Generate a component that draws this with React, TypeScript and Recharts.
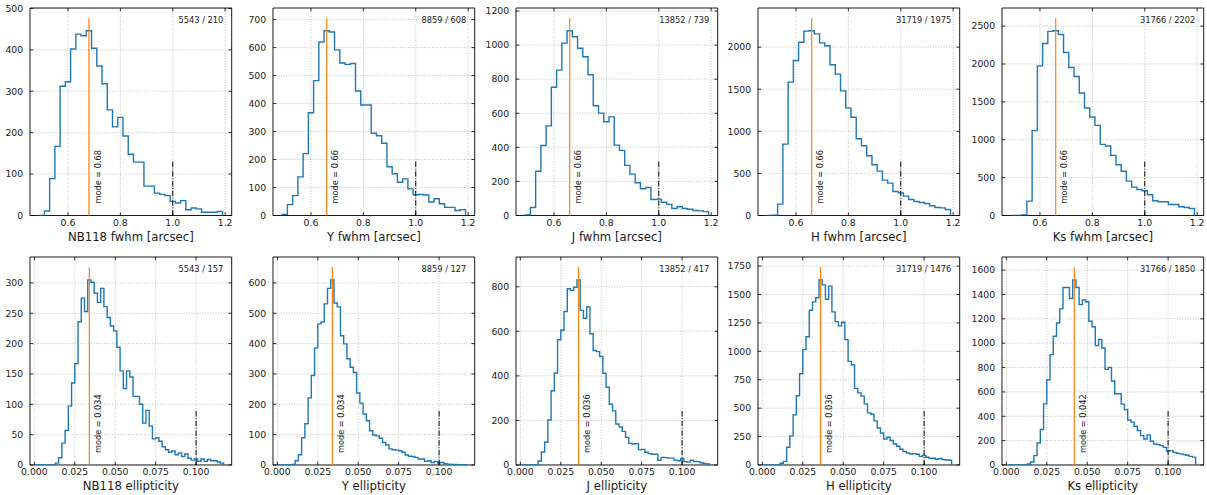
import React from 'react';
import {
  ComposedChart,
  Line,
  XAxis,
  YAxis,
  CartesianGrid,
  ReferenceLine,
  ReferenceArea,
  ReferenceDot,
} from 'recharts';

// ---------------- data ----------------
const FWHM_BIN_START = 0.49;
const FWHM_BIN_WIDTH = 0.02;
const ELL_BIN_START = 0.001;
const ELL_BIN_WIDTH = 0.002;

const nb118Fwhm = [0, 11, 89, 167, 312, 323, 402, 438, 434, 446, 404, 361, 318, 255, 214, 237, 192, 148, 129, 129, 71, 71, 54, 51, 48, 34, 30, 36, 14, 18, 16, 8, 8, 8, 10];
const yFwhm = [4, 39, 71, 138, 221, 367, 482, 620, 660, 656, 592, 545, 540, 543, 445, 395, 395, 294, 285, 258, 174, 149, 119, 131, 95, 74, 75, 73, 48, 60, 42, 29, 29, 18, 21];
const jFwhm = [3, 47, 260, 411, 526, 753, 853, 1012, 1084, 1049, 982, 932, 826, 644, 601, 550, 579, 413, 382, 294, 243, 192, 157, 164, 94, 96, 78, 65, 41, 51, 41, 37, 29, 27, 23];
const hFwhm = [0, 3, 135, 848, 1584, 1842, 2059, 2190, 2194, 2158, 2051, 2016, 1790, 1679, 1481, 1279, 1168, 911, 828, 709, 602, 527, 420, 384, 285, 269, 230, 190, 166, 154, 143, 115, 95, 91, 71];
const ksFwhm = [0, 0, 8, 190, 1120, 1975, 2271, 2430, 2438, 2390, 2152, 1953, 1834, 1618, 1420, 1301, 1190, 939, 917, 794, 670, 584, 454, 375, 344, 326, 273, 194, 181, 181, 146, 146, 115, 106, 93];

const nb118Ell = [0, 0, 0, 0, 0, 0, 3, 12, 36, 57, 97, 135, 167, 236, 275, 253, 305, 301, 283, 268, 291, 261, 243, 229, 221, 194, 155, 126, 155, 145, 113, 113, 100, 69, 90, 64, 43, 45, 39, 30, 25, 21, 23, 17, 20, 14, 18, 11, 8, 10, 6, 10, 6, 9, 7, 7, 5, 3];
const yEll = [0, 0, 0, 0, 2, 14, 34, 90, 136, 221, 295, 386, 465, 471, 531, 582, 610, 534, 521, 426, 399, 350, 322, 305, 237, 204, 168, 146, 113, 99, 96, 88, 74, 66, 53, 50, 49, 47, 42, 33, 29, 28, 25, 20, 20, 12, 14, 8, 12, 7, 8, 4, 3, 2, 2, 1, 1, 1];
const jEll = [0, 0, 0, 0, 0, 18, 58, 102, 202, 333, 413, 562, 605, 689, 791, 783, 798, 831, 694, 659, 709, 589, 514, 509, 487, 412, 349, 273, 243, 184, 171, 151, 124, 97, 94, 96, 69, 70, 57, 51, 48, 48, 21, 34, 33, 31, 31, 22, 19, 28, 15, 13, 21, 16, 15, 10, 7, 5];
const hEll = [0, 0, 0, 0, 0, 15, 32, 156, 256, 441, 609, 803, 1015, 1129, 1362, 1435, 1471, 1629, 1585, 1459, 1574, 1347, 1262, 1224, 1256, 1103, 912, 882, 674, 635, 606, 538, 459, 447, 388, 326, 282, 229, 244, 215, 185, 165, 138, 118, 106, 97, 100, 94, 76, 85, 68, 59, 60, 50, 57, 47, 44, 42];
const ksEll = [0, 0, 0, 0, 0, 0, 8, 25, 77, 181, 291, 502, 700, 906, 1057, 1166, 1282, 1457, 1457, 1367, 1520, 1457, 1317, 1355, 1340, 1180, 1135, 980, 1030, 960, 785, 800, 690, 585, 585, 500, 455, 370, 352, 318, 283, 241, 214, 247, 195, 173, 167, 159, 145, 115, 118, 104, 96, 91, 85, 80, 71, 65];

const fwhmXTicks = [0.6, 0.8, 1.0, 1.2];
const ellXTicks = [0, 0.025, 0.05, 0.075, 0.1];

const nb118FwhmYTicks = [0, 100, 200, 300, 400, 500];
const yFwhmYTicks = [0, 100, 200, 300, 400, 500, 600, 700];
const jFwhmYTicks = [0, 200, 400, 600, 800, 1000, 1200];
const hFwhmYTicks = [0, 500, 1000, 1500, 2000];
const ksFwhmYTicks = [0, 500, 1000, 1500, 2000, 2500];
const nb118EllYTicks = [0, 50, 100, 150, 200, 250, 300];
const yEllYTicks = [0, 100, 200, 300, 400, 500, 600];
const jEllYTicks = [0, 200, 400, 600, 800];
const hEllYTicks = [0, 250, 500, 750, 1000, 1250, 1500, 1750];
const ksEllYTicks = [0, 200, 400, 600, 800, 1000, 1200, 1400, 1600];

const fwhmTitles = ['NB118 fwhm [arcsec]', 'Y fwhm [arcsec]', 'J fwhm [arcsec]', 'H fwhm [arcsec]', 'Ks fwhm [arcsec]'];
const ellTitles = ['NB118 ellipticity', 'Y ellipticity', 'J ellipticity', 'H ellipticity', 'Ks ellipticity'];
const fwhmInfo = ['5543 / 210', '8859 / 608', '13852 / 739', '31719 / 1975', '31766 / 2202'];
const ellInfo = ['5543 / 157', '8859 / 127', '13852 / 417', '31719 / 1476', '31766 / 1850'];
const fwhmModes = [0.68, 0.66, 0.66, 0.66, 0.66];
const ellModes = [0.034, 0.034, 0.036, 0.036, 0.042];

// ---------------- layout / style ----------------
const FONT = '"DejaVu Sans", Verdana, sans-serif';
const PLOT_W = 201.7;
const ML = 40;
const MR = 12;
const MT = 16;
const MB = 34;
const TICK = 3.3;
const COL_LEFT = [30.4, 273.0, 515.5, 758.1, 1001.6];
const TOP_ROW = { top: 7.5, h: 207.5 };
const BOT_ROW = { top: 256.5, h: 208 };
const FWHM_DOMAIN: [number, number] = [0.455, 1.225];
const ELL_DOMAIN: [number, number] = [-0.0027, 0.122];

function buildSteps(start: number, width: number, counts: number[]) {
  const pts: { x: number; y: number }[] = [{ x: start, y: 0 }];
  counts.forEach((c, i) => pts.push({ x: start + i * width, y: c }));
  const end = start + counts.length * width;
  pts.push({ x: end, y: counts[counts.length - 1] });
  pts.push({ x: end, y: 0 });
  return pts;
}

type PanelProps = {
  left: number;
  top: number;
  plotH: number;
  counts: number[];
  start: number;
  width: number;
  xDomain: [number, number];
  xTicks: number[];
  xDigits: number;
  yTicks: number[];
  mode: number;
  modeText: string;
  refX: number;
  info: string;
  title: string;
};

function Panel(p: PanelProps) {
  const data = buildSteps(p.start, p.width, p.counts);
  const peak = Math.max(...p.counts);
  const modeTop = peak * 1.07;
  const yTop = modeTop * 1.05;
  const refTop = peak * 0.3;
  const w = ML + PLOT_W + MR;
  const h = MT + p.plotH + MB;
  const xMid = (p.xDomain[0] + p.xDomain[1]) / 2;

  const xTick = (tp: any) => {
    const { x, y, payload } = tp;
    return (
      <g>
        <line x1={x} x2={x} y1={y} y2={y - TICK} stroke="#000" strokeWidth={0.8} />
        <line x1={x} x2={x} y1={y - p.plotH} y2={y - p.plotH + TICK} stroke="#000" strokeWidth={0.8} />
        <text x={x} y={y + 10.3} textAnchor="middle" fontSize={9.3} fontFamily={FONT} fill="#1a1a1a">
          {Number(payload.value).toFixed(p.xDigits)}
        </text>
      </g>
    );
  };

  return (
    <div style={{ position: 'absolute', left: p.left - ML, top: p.top - MT, width: w, height: h }}>
      <ComposedChart
        width={w}
        height={h}
        data={data}
        margin={{ top: MT, right: MR, bottom: 0, left: 0 }}
        style={{ overflow: 'visible' }}
      >
        <CartesianGrid stroke="#b0b0b0" strokeDasharray="1 1.65" strokeWidth={0.8} syncWithTicks />
        <XAxis
          type="number"
          dataKey="x"
          domain={p.xDomain}
          ticks={p.xTicks}
          interval={0}
          allowDataOverflow
          height={MB}
          tickSize={0}
          tickMargin={0}
          axisLine={false}
          tickLine={false}
          tick={xTick}
        />
        <YAxis
          type="number"
          domain={[0, yTop]}
          ticks={p.yTicks}
          interval={0}
          allowDataOverflow
          width={ML}
          tickSize={0}
          tickMargin={0}
          axisLine={false}
          tickLine={false}
          tick={() => <g />}
        />
        <Line
          type="stepAfter"
          dataKey="y"
          stroke="#1f77b4"
          strokeWidth={1.4}
          dot={false}
          activeDot={false}
          isAnimationActive={false}
        />
        <ReferenceLine
          segment={[{ x: p.refX, y: 0 }, { x: p.refX, y: refTop }]}
          stroke="#000"
          strokeWidth={1}
          strokeDasharray="5.5 1.6 1 1.6"
        />
        <ReferenceLine
          segment={[{ x: p.mode, y: 0 }, { x: p.mode, y: modeTop }]}
          stroke="#ff7f0e"
          strokeWidth={1.2}
        />
        <ReferenceArea
          x1={p.xDomain[0]}
          x2={p.xDomain[1]}
          y1={0}
          y2={yTop}
          fill="none"
          fillOpacity={0}
          stroke="#000"
          strokeWidth={0.9}
          strokeOpacity={1}
          ifOverflow="visible"
        />
        {p.yTicks.map((v) => (
          <ReferenceDot
            key={'yt' + v}
            x={p.xDomain[0]}
            y={v}
            r={0}
            ifOverflow="visible"
            shape={(sp: any) => (
              <g>
                <line x1={sp.cx} x2={sp.cx + TICK} y1={sp.cy} y2={sp.cy} stroke="#000" strokeWidth={0.8} />
                <line x1={sp.cx + PLOT_W} x2={sp.cx + PLOT_W - TICK} y1={sp.cy} y2={sp.cy} stroke="#000" strokeWidth={0.8} />
                <text x={sp.cx - 6.8} y={sp.cy + 3.3} textAnchor="end" fontSize={9.3} fontFamily={FONT} fill="#1a1a1a">
                  {String(v)}
                </text>
              </g>
            )}
          />
        ))}
        <ReferenceDot
          x={p.mode}
          y={0}
          r={0}
          ifOverflow="visible"
          shape={(sp: any) => (
            <text
              x={sp.cx + 11.7}
              y={sp.cy - 12}
              transform={`rotate(-90 ${sp.cx + 11.7} ${sp.cy - 12})`}
              fontSize={8.2}
              fontFamily={FONT}
              fill="#1a1a1a"
              textAnchor="start"
            >
              {p.modeText}
            </text>
          )}
        />
        <ReferenceDot
          x={p.xDomain[1]}
          y={yTop}
          r={0}
          ifOverflow="visible"
          shape={(sp: any) => (
            <text x={sp.cx - 8.3} y={sp.cy + 15.2} fontSize={8.3} fontFamily={FONT} fill="#1a1a1a" textAnchor="end">
              {p.info}
            </text>
          )}
        />
        <ReferenceDot
          x={xMid}
          y={0}
          r={0}
          ifOverflow="visible"
          shape={(sp: any) => (
            <text x={sp.cx} y={sp.cy + 25.5} fontSize={11.7} fontFamily={FONT} fill="#1a1a1a" textAnchor="middle">
              {p.title}
            </text>
          )}
        />
      </ComposedChart>
    </div>
  );
}

const fwhmSets = [
  { counts: nb118Fwhm, yTicks: nb118FwhmYTicks },
  { counts: yFwhm, yTicks: yFwhmYTicks },
  { counts: jFwhm, yTicks: jFwhmYTicks },
  { counts: hFwhm, yTicks: hFwhmYTicks },
  { counts: ksFwhm, yTicks: ksFwhmYTicks },
];
const ellSets = [
  { counts: nb118Ell, yTicks: nb118EllYTicks },
  { counts: yEll, yTicks: yEllYTicks },
  { counts: jEll, yTicks: jEllYTicks },
  { counts: hEll, yTicks: hEllYTicks },
  { counts: ksEll, yTicks: ksEllYTicks },
];

export default function App() {
  return (
    <div style={{ position: 'absolute', left: 0, top: 0, width: 1207, height: 495, background: '#fff', overflow: 'hidden' }}>
      {fwhmSets.map((s, i) => (
        <Panel
          key={'f' + i}
          left={COL_LEFT[i]}
          top={TOP_ROW.top}
          plotH={TOP_ROW.h}
          counts={s.counts}
          start={FWHM_BIN_START}
          width={FWHM_BIN_WIDTH}
          xDomain={FWHM_DOMAIN}
          xTicks={fwhmXTicks}
          xDigits={1}
          yTicks={s.yTicks}
          mode={fwhmModes[i]}
          modeText={'mode = ' + fwhmModes[i].toFixed(2)}
          refX={1.0}
          info={fwhmInfo[i]}
          title={fwhmTitles[i]}
        />
      ))}
      {ellSets.map((s, i) => (
        <Panel
          key={'e' + i}
          left={COL_LEFT[i]}
          top={BOT_ROW.top}
          plotH={BOT_ROW.h}
          counts={s.counts}
          start={ELL_BIN_START}
          width={ELL_BIN_WIDTH}
          xDomain={ELL_DOMAIN}
          xTicks={ellXTicks}
          xDigits={3}
          yTicks={s.yTicks}
          mode={ellModes[i]}
          modeText={'mode = ' + ellModes[i].toFixed(3)}
          refX={0.1}
          info={ellInfo[i]}
          title={ellTitles[i]}
        />
      ))}
    </div>
  );
}
